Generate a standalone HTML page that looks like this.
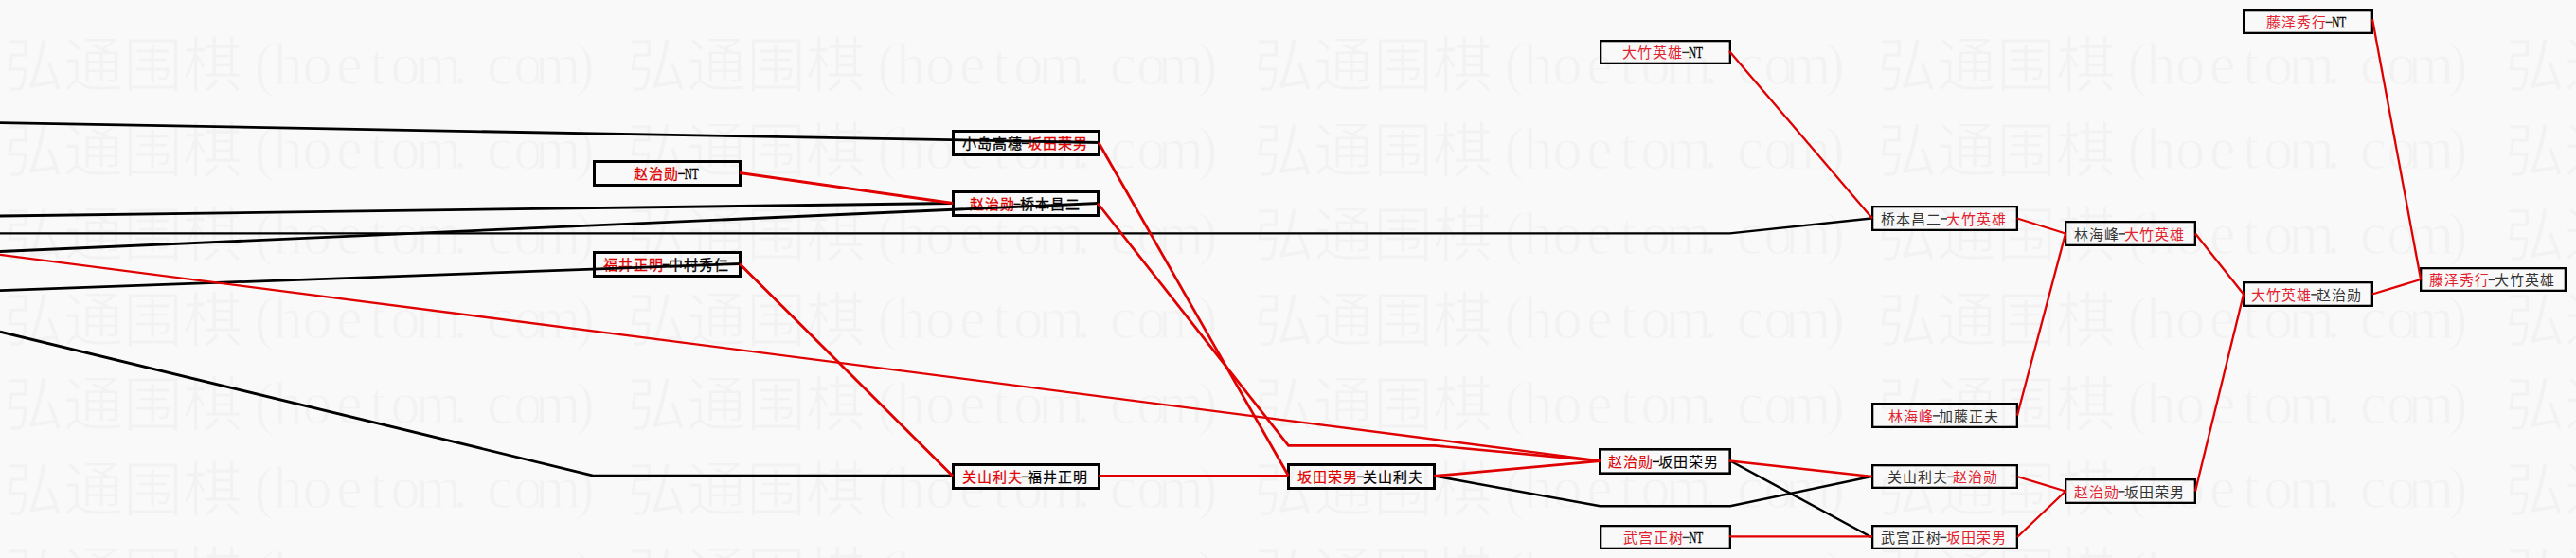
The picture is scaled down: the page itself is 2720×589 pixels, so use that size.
<!DOCTYPE html>
<html lang="zh-CN"><head><meta charset="utf-8"><title>bracket</title>
<style>
html,body{margin:0;padding:0;background:#f9f9f9;width:2720px;height:589px;overflow:hidden}
svg{display:block}
text{font-family:"Liberation Serif",serif}
</style></head><body>
<svg width="2720" height="589" viewBox="0 0 2720 589">
<rect x="0" y="0" width="2720" height="589" fill="#f9f9f9"/>

<g fill="#f2f2f2" stroke="#f9f9f9" stroke-width="1.2">
<text x="4.0" y="91.2" font-size="63">弘通围棋</text>
<text x="279.0 304.0 335.0 369.0 399.0 428.0 463.0 486.0 528.0 558.0 589.0 617.5" y="88.5" font-size="63" text-anchor="middle">(hoetom.com)</text>
<text x="661.8" y="91.2" font-size="63">弘通围棋</text>
<text x="936.8 961.8 992.8 1026.8 1056.8 1085.8 1120.8 1143.8 1185.8 1215.8 1246.8 1275.3" y="88.5" font-size="63" text-anchor="middle">(hoetom.com)</text>
<text x="1324.0" y="91.2" font-size="63">弘通围棋</text>
<text x="1599.0 1624.0 1655.0 1689.0 1719.0 1748.0 1783.0 1806.0 1848.0 1878.0 1909.0 1937.5" y="88.5" font-size="63" text-anchor="middle">(hoetom.com)</text>
<text x="1981.8" y="91.2" font-size="63">弘通围棋</text>
<text x="2256.8 2281.8 2312.8 2346.8 2376.8 2405.8 2440.8 2463.8 2505.8 2535.8 2566.8 2595.3" y="88.5" font-size="63" text-anchor="middle">(hoetom.com)</text>
<text x="2645.0" y="91.2" font-size="63">弘通围棋</text>
<text x="2920.0 2945.0 2976.0 3010.0 3040.0 3069.0 3104.0 3127.0 3169.0 3199.0 3230.0 3258.5" y="88.5" font-size="63" text-anchor="middle">(hoetom.com)</text>
<text x="4.0" y="180.75" font-size="63">弘通围棋</text>
<text x="279.0 304.0 335.0 369.0 399.0 428.0 463.0 486.0 528.0 558.0 589.0 617.5" y="178.05" font-size="63" text-anchor="middle">(hoetom.com)</text>
<text x="661.8" y="180.75" font-size="63">弘通围棋</text>
<text x="936.8 961.8 992.8 1026.8 1056.8 1085.8 1120.8 1143.8 1185.8 1215.8 1246.8 1275.3" y="178.05" font-size="63" text-anchor="middle">(hoetom.com)</text>
<text x="1324.0" y="180.75" font-size="63">弘通围棋</text>
<text x="1599.0 1624.0 1655.0 1689.0 1719.0 1748.0 1783.0 1806.0 1848.0 1878.0 1909.0 1937.5" y="178.05" font-size="63" text-anchor="middle">(hoetom.com)</text>
<text x="1981.8" y="180.75" font-size="63">弘通围棋</text>
<text x="2256.8 2281.8 2312.8 2346.8 2376.8 2405.8 2440.8 2463.8 2505.8 2535.8 2566.8 2595.3" y="178.05" font-size="63" text-anchor="middle">(hoetom.com)</text>
<text x="2645.0" y="180.75" font-size="63">弘通围棋</text>
<text x="2920.0 2945.0 2976.0 3010.0 3040.0 3069.0 3104.0 3127.0 3169.0 3199.0 3230.0 3258.5" y="178.05" font-size="63" text-anchor="middle">(hoetom.com)</text>
<text x="4.0" y="270.3" font-size="63">弘通围棋</text>
<text x="279.0 304.0 335.0 369.0 399.0 428.0 463.0 486.0 528.0 558.0 589.0 617.5" y="267.6" font-size="63" text-anchor="middle">(hoetom.com)</text>
<text x="661.8" y="270.3" font-size="63">弘通围棋</text>
<text x="936.8 961.8 992.8 1026.8 1056.8 1085.8 1120.8 1143.8 1185.8 1215.8 1246.8 1275.3" y="267.6" font-size="63" text-anchor="middle">(hoetom.com)</text>
<text x="1324.0" y="270.3" font-size="63">弘通围棋</text>
<text x="1599.0 1624.0 1655.0 1689.0 1719.0 1748.0 1783.0 1806.0 1848.0 1878.0 1909.0 1937.5" y="267.6" font-size="63" text-anchor="middle">(hoetom.com)</text>
<text x="1981.8" y="270.3" font-size="63">弘通围棋</text>
<text x="2256.8 2281.8 2312.8 2346.8 2376.8 2405.8 2440.8 2463.8 2505.8 2535.8 2566.8 2595.3" y="267.6" font-size="63" text-anchor="middle">(hoetom.com)</text>
<text x="2645.0" y="270.3" font-size="63">弘通围棋</text>
<text x="2920.0 2945.0 2976.0 3010.0 3040.0 3069.0 3104.0 3127.0 3169.0 3199.0 3230.0 3258.5" y="267.6" font-size="63" text-anchor="middle">(hoetom.com)</text>
<text x="4.0" y="359.85" font-size="63">弘通围棋</text>
<text x="279.0 304.0 335.0 369.0 399.0 428.0 463.0 486.0 528.0 558.0 589.0 617.5" y="357.15" font-size="63" text-anchor="middle">(hoetom.com)</text>
<text x="661.8" y="359.85" font-size="63">弘通围棋</text>
<text x="936.8 961.8 992.8 1026.8 1056.8 1085.8 1120.8 1143.8 1185.8 1215.8 1246.8 1275.3" y="357.15" font-size="63" text-anchor="middle">(hoetom.com)</text>
<text x="1324.0" y="359.85" font-size="63">弘通围棋</text>
<text x="1599.0 1624.0 1655.0 1689.0 1719.0 1748.0 1783.0 1806.0 1848.0 1878.0 1909.0 1937.5" y="357.15" font-size="63" text-anchor="middle">(hoetom.com)</text>
<text x="1981.8" y="359.85" font-size="63">弘通围棋</text>
<text x="2256.8 2281.8 2312.8 2346.8 2376.8 2405.8 2440.8 2463.8 2505.8 2535.8 2566.8 2595.3" y="357.15" font-size="63" text-anchor="middle">(hoetom.com)</text>
<text x="2645.0" y="359.85" font-size="63">弘通围棋</text>
<text x="2920.0 2945.0 2976.0 3010.0 3040.0 3069.0 3104.0 3127.0 3169.0 3199.0 3230.0 3258.5" y="357.15" font-size="63" text-anchor="middle">(hoetom.com)</text>
<text x="4.0" y="449.4" font-size="63">弘通围棋</text>
<text x="279.0 304.0 335.0 369.0 399.0 428.0 463.0 486.0 528.0 558.0 589.0 617.5" y="446.7" font-size="63" text-anchor="middle">(hoetom.com)</text>
<text x="661.8" y="449.4" font-size="63">弘通围棋</text>
<text x="936.8 961.8 992.8 1026.8 1056.8 1085.8 1120.8 1143.8 1185.8 1215.8 1246.8 1275.3" y="446.7" font-size="63" text-anchor="middle">(hoetom.com)</text>
<text x="1324.0" y="449.4" font-size="63">弘通围棋</text>
<text x="1599.0 1624.0 1655.0 1689.0 1719.0 1748.0 1783.0 1806.0 1848.0 1878.0 1909.0 1937.5" y="446.7" font-size="63" text-anchor="middle">(hoetom.com)</text>
<text x="1981.8" y="449.4" font-size="63">弘通围棋</text>
<text x="2256.8 2281.8 2312.8 2346.8 2376.8 2405.8 2440.8 2463.8 2505.8 2535.8 2566.8 2595.3" y="446.7" font-size="63" text-anchor="middle">(hoetom.com)</text>
<text x="2645.0" y="449.4" font-size="63">弘通围棋</text>
<text x="2920.0 2945.0 2976.0 3010.0 3040.0 3069.0 3104.0 3127.0 3169.0 3199.0 3230.0 3258.5" y="446.7" font-size="63" text-anchor="middle">(hoetom.com)</text>
<text x="4.0" y="538.95" font-size="63">弘通围棋</text>
<text x="279.0 304.0 335.0 369.0 399.0 428.0 463.0 486.0 528.0 558.0 589.0 617.5" y="536.25" font-size="63" text-anchor="middle">(hoetom.com)</text>
<text x="661.8" y="538.95" font-size="63">弘通围棋</text>
<text x="936.8 961.8 992.8 1026.8 1056.8 1085.8 1120.8 1143.8 1185.8 1215.8 1246.8 1275.3" y="536.25" font-size="63" text-anchor="middle">(hoetom.com)</text>
<text x="1324.0" y="538.95" font-size="63">弘通围棋</text>
<text x="1599.0 1624.0 1655.0 1689.0 1719.0 1748.0 1783.0 1806.0 1848.0 1878.0 1909.0 1937.5" y="536.25" font-size="63" text-anchor="middle">(hoetom.com)</text>
<text x="1981.8" y="538.95" font-size="63">弘通围棋</text>
<text x="2256.8 2281.8 2312.8 2346.8 2376.8 2405.8 2440.8 2463.8 2505.8 2535.8 2566.8 2595.3" y="536.25" font-size="63" text-anchor="middle">(hoetom.com)</text>
<text x="2645.0" y="538.95" font-size="63">弘通围棋</text>
<text x="2920.0 2945.0 2976.0 3010.0 3040.0 3069.0 3104.0 3127.0 3169.0 3199.0 3230.0 3258.5" y="536.25" font-size="63" text-anchor="middle">(hoetom.com)</text>
<text x="4.0" y="628.5" font-size="63">弘通围棋</text>
<text x="279.0 304.0 335.0 369.0 399.0 428.0 463.0 486.0 528.0 558.0 589.0 617.5" y="625.8" font-size="63" text-anchor="middle">(hoetom.com)</text>
<text x="661.8" y="628.5" font-size="63">弘通围棋</text>
<text x="936.8 961.8 992.8 1026.8 1056.8 1085.8 1120.8 1143.8 1185.8 1215.8 1246.8 1275.3" y="625.8" font-size="63" text-anchor="middle">(hoetom.com)</text>
<text x="1324.0" y="628.5" font-size="63">弘通围棋</text>
<text x="1599.0 1624.0 1655.0 1689.0 1719.0 1748.0 1783.0 1806.0 1848.0 1878.0 1909.0 1937.5" y="625.8" font-size="63" text-anchor="middle">(hoetom.com)</text>
<text x="1981.8" y="628.5" font-size="63">弘通围棋</text>
<text x="2256.8 2281.8 2312.8 2346.8 2376.8 2405.8 2440.8 2463.8 2505.8 2535.8 2566.8 2595.3" y="625.8" font-size="63" text-anchor="middle">(hoetom.com)</text>
<text x="2645.0" y="628.5" font-size="63">弘通围棋</text>
<text x="2920.0 2945.0 2976.0 3010.0 3040.0 3069.0 3104.0 3127.0 3169.0 3199.0 3230.0 3258.5" y="625.8" font-size="63" text-anchor="middle">(hoetom.com)</text>
</g>
<rect x="627.5" y="170.5" width="154" height="25" fill="none" stroke="#000" stroke-width="3"/>
<text x="669.20 685.20 701.20" y="189.20" font-size="15" fill="#e00000" stroke="#e00000" stroke-width="0.3">赵治勋</text>
<rect x="716.10" y="182.65" width="7.1" height="1.45" fill="#000"/>
<text x="722.70" y="188.5" font-size="16" fill="#000" stroke="#000" stroke-width="0.35" textLength="15" lengthAdjust="spacingAndGlyphs">NT</text>
<rect x="627.5" y="266.5" width="154" height="25" fill="none" stroke="#000" stroke-width="3"/>
<text x="636.70 652.70 668.70 684.70" y="285.20" font-size="15" fill="#e00000" stroke="#e00000" stroke-width="0.3">福井正明</text>
<rect x="699.60" y="278.65" width="7.1" height="1.45" fill="#000"/>
<text x="705.70 721.70 737.70 753.70" y="285.20" font-size="15" fill="#000" stroke="#000" stroke-width="0.3">中村秀仁</text>
<rect x="1006.5" y="138.5" width="154" height="25" fill="none" stroke="#000" stroke-width="3"/>
<text x="1015.90 1031.90 1047.90 1063.90" y="157.20" font-size="15" fill="#000" stroke="#000" stroke-width="0.3">小岛高穗</text>
<rect x="1078.80" y="150.65" width="7.1" height="1.45" fill="#000"/>
<text x="1084.90 1100.90 1116.90 1132.90" y="157.20" font-size="15" fill="#e00000" stroke="#e00000" stroke-width="0.3">坂田荣男</text>
<rect x="1006.5" y="202.5" width="153" height="25" fill="none" stroke="#000" stroke-width="3"/>
<text x="1023.60 1039.60 1055.60" y="221.20" font-size="15" fill="#e00000" stroke="#e00000" stroke-width="0.3">赵治勋</text>
<rect x="1070.50" y="214.65" width="7.1" height="1.45" fill="#000"/>
<text x="1076.60 1092.60 1108.60 1124.60" y="221.20" font-size="15" fill="#000" stroke="#000" stroke-width="0.3">桥本昌二</text>
<rect x="1006.5" y="490.5" width="154" height="25" fill="none" stroke="#000" stroke-width="3"/>
<text x="1015.80 1031.80 1047.80 1063.80" y="509.20" font-size="15" fill="#e00000" stroke="#e00000" stroke-width="0.2">关山利夫</text>
<rect x="1078.70" y="502.65" width="7.1" height="1.45" fill="#000"/>
<text x="1084.80 1100.80 1116.80 1132.80" y="509.20" font-size="15" fill="#000" stroke="#000" stroke-width="0.2">福井正明</text>
<rect x="1360.5" y="490.5" width="154" height="25" fill="none" stroke="#000" stroke-width="3"/>
<text x="1370.00 1386.00 1402.00 1418.00" y="509.20" font-size="15" fill="#e00000" stroke="#e00000" stroke-width="0.2">坂田荣男</text>
<rect x="1432.90" y="502.65" width="7.1" height="1.45" fill="#000"/>
<text x="1439.00 1455.00 1471.00 1487.00" y="509.20" font-size="15" fill="#000" stroke="#000" stroke-width="0.2">关山利夫</text>
<rect x="1690.15" y="43.15" width="136.7" height="23.7" fill="none" stroke="#000" stroke-width="2.3"/>
<text x="1713.40 1729.40 1745.40 1761.40" y="61.20" font-size="15" fill="#e3222f">大竹英雄</text>
<rect x="1776.30" y="54.65" width="7.1" height="1.45" fill="#333"/>
<text x="1782.90" y="60.5" font-size="16" fill="#000" stroke="#000" stroke-width="0.35" textLength="15" lengthAdjust="spacingAndGlyphs">NT</text>
<rect x="1689.3" y="474.3" width="137.4" height="25.4" fill="none" stroke="#000" stroke-width="2.6"/>
<text x="1698.00 1714.00 1730.00" y="493.20" font-size="15" fill="#e00000" stroke="#e00000" stroke-width="0.1">赵治勋</text>
<rect x="1744.90" y="486.65" width="7.1" height="1.45" fill="#000"/>
<text x="1751.00 1767.00 1783.00 1799.00" y="493.20" font-size="15" fill="#000" stroke="#000" stroke-width="0.1">坂田荣男</text>
<rect x="1690.15" y="555.15" width="136.7" height="23.7" fill="none" stroke="#000" stroke-width="2.3"/>
<text x="1713.70 1729.70 1745.70 1761.70" y="573.20" font-size="15" fill="#e3222f">武宫正树</text>
<rect x="1776.60" y="566.65" width="7.1" height="1.45" fill="#333"/>
<text x="1783.20" y="572.5" font-size="16" fill="#000" stroke="#000" stroke-width="0.35" textLength="15" lengthAdjust="spacingAndGlyphs">NT</text>
<rect x="1977.15" y="218.15" width="152.7" height="24.7" fill="none" stroke="#000" stroke-width="2.3"/>
<text x="1986.00 2002.00 2018.00 2034.00" y="236.70" font-size="15" fill="#333">桥本昌二</text>
<rect x="2048.90" y="230.15" width="7.1" height="1.45" fill="#333"/>
<text x="2055.00 2071.00 2087.00 2103.00" y="236.70" font-size="15" fill="#e3222f">大竹英雄</text>
<rect x="1977.15" y="426.15" width="152.7" height="24.7" fill="none" stroke="#000" stroke-width="2.3"/>
<text x="1994.20 2010.20 2026.20" y="444.70" font-size="15" fill="#e3222f">林海峰</text>
<rect x="2041.10" y="438.15" width="7.1" height="1.45" fill="#333"/>
<text x="2047.20 2063.20 2079.20 2095.20" y="444.70" font-size="15" fill="#333">加藤正夫</text>
<rect x="1977.15" y="491.15" width="152.7" height="23.7" fill="none" stroke="#000" stroke-width="2.3"/>
<text x="1993.30 2009.30 2025.30 2041.30" y="509.20" font-size="15" fill="#333">关山利夫</text>
<rect x="2056.20" y="502.65" width="7.1" height="1.45" fill="#333"/>
<text x="2062.30 2078.30 2094.30" y="509.20" font-size="15" fill="#e3222f">赵治勋</text>
<rect x="1977.15" y="555.15" width="152.7" height="23.7" fill="none" stroke="#000" stroke-width="2.3"/>
<text x="1985.50 2001.50 2017.50 2033.50" y="573.20" font-size="15" fill="#333">武宫正树</text>
<rect x="2048.40" y="566.65" width="7.1" height="1.45" fill="#333"/>
<text x="2054.50 2070.50 2086.50 2102.50" y="573.20" font-size="15" fill="#e3222f">坂田荣男</text>
<rect x="2181.15" y="234.15" width="136.7" height="24.7" fill="none" stroke="#000" stroke-width="2.3"/>
<text x="2190.00 2206.00 2222.00" y="252.70" font-size="15" fill="#333">林海峰</text>
<rect x="2236.90" y="246.15" width="7.1" height="1.45" fill="#333"/>
<text x="2243.00 2259.00 2275.00 2291.00" y="252.70" font-size="15" fill="#e3222f">大竹英雄</text>
<rect x="2181.15" y="506.15" width="136.7" height="24.7" fill="none" stroke="#000" stroke-width="2.3"/>
<text x="2189.60 2205.60 2221.60" y="524.70" font-size="15" fill="#e3222f">赵治勋</text>
<rect x="2236.50" y="518.15" width="7.1" height="1.45" fill="#333"/>
<text x="2242.60 2258.60 2274.60 2290.60" y="524.70" font-size="15" fill="#333">坂田荣男</text>
<rect x="2369.15" y="11.15" width="135.7" height="23.7" fill="none" stroke="#000" stroke-width="2.3"/>
<text x="2392.70 2408.70 2424.70 2440.70" y="29.20" font-size="15" fill="#e3222f">藤泽秀行</text>
<rect x="2455.60" y="22.65" width="7.1" height="1.45" fill="#333"/>
<text x="2462.20" y="28.5" font-size="16" fill="#000" stroke="#000" stroke-width="0.35" textLength="15" lengthAdjust="spacingAndGlyphs">NT</text>
<rect x="2369.15" y="298.15" width="135.7" height="24.7" fill="none" stroke="#000" stroke-width="2.3"/>
<text x="2377.40 2393.40 2409.40 2425.40" y="316.70" font-size="15" fill="#e3222f">大竹英雄</text>
<rect x="2440.30" y="310.15" width="7.1" height="1.45" fill="#333"/>
<text x="2446.40 2462.40 2478.40" y="316.70" font-size="15" fill="#333">赵治勋</text>
<rect x="2556.15" y="283.15" width="152.7" height="23.7" fill="none" stroke="#000" stroke-width="2.3"/>
<text x="2564.80 2580.80 2596.80 2612.80" y="301.20" font-size="15" fill="#e3222f">藤泽秀行</text>
<rect x="2627.70" y="294.65" width="7.1" height="1.45" fill="#333"/>
<text x="2633.80 2649.80 2665.80 2681.80" y="301.20" font-size="15" fill="#333">大竹英雄</text>
<polyline points="0,129.6 1161,150.5" fill="none" stroke="#000" stroke-width="2.8" stroke-linejoin="miter"/>
<polyline points="0,228 1005,214.5" fill="none" stroke="#000" stroke-width="2.8" stroke-linejoin="miter"/>
<polyline points="0,246.4 1826.5,246.4 1976,230.5" fill="none" stroke="#000" stroke-width="2.3" stroke-linejoin="miter"/>
<polyline points="0,265.5 1160,214.5" fill="none" stroke="#000" stroke-width="2.8" stroke-linejoin="miter"/>
<polyline points="0,306.7 782,278.5" fill="none" stroke="#000" stroke-width="2.8" stroke-linejoin="miter"/>
<polyline points="0,350.2 627.3,502.3 1005,502.3" fill="none" stroke="#000" stroke-width="2.9" stroke-linejoin="miter"/>
<polyline points="1515,502.5 1689.5,534.3 1827,534.3 1976,503" fill="none" stroke="#000" stroke-width="2.5" stroke-linejoin="miter"/>
<polyline points="1827,486.5 1976,567" fill="none" stroke="#000" stroke-width="2.5" stroke-linejoin="miter"/>
<polyline points="0,268.9 1689.5,486.3" fill="none" stroke="#e00000" stroke-width="2.3" stroke-linejoin="miter"/>
<polyline points="781.0,182.5 1006.0,214.5" fill="none" stroke="#e00000" stroke-width="2.8" stroke-linejoin="miter"/>
<polyline points="781.0,278.5 1006.0,502.5" fill="none" stroke="#e00000" stroke-width="2.9" stroke-linejoin="miter"/>
<polyline points="1160.0,150.5 1360.5,502.2" fill="none" stroke="#e00000" stroke-width="2.8" stroke-linejoin="miter"/>
<polyline points="1159.0,214.5 1360.5,470.4 1515,470.4 1689.5,486.6" fill="none" stroke="#e00000" stroke-width="2.7" stroke-linejoin="miter"/>
<polyline points="1160.0,502.4 1360.0,502.4" fill="none" stroke="#e00000" stroke-width="3.0" stroke-linejoin="miter"/>
<polyline points="1514.0,502.5 1689.5,486.6" fill="none" stroke="#e00000" stroke-width="2.8" stroke-linejoin="miter"/>
<polyline points="1826.0,54 1977.0,230.5" fill="none" stroke="#e00000" stroke-width="2.3" stroke-linejoin="miter"/>
<polyline points="1826.0,486.5 1977.0,503" fill="none" stroke="#e00000" stroke-width="2.5" stroke-linejoin="miter"/>
<polyline points="1826.0,566.4 1977.0,566.4" fill="none" stroke="#e00000" stroke-width="2.3" stroke-linejoin="miter"/>
<polyline points="2130.0,230.5 2181.0,246.5" fill="none" stroke="#e00000" stroke-width="2.3" stroke-linejoin="miter"/>
<polyline points="2130.0,438.5 2181.0,246.5" fill="none" stroke="#e00000" stroke-width="2.3" stroke-linejoin="miter"/>
<polyline points="2130.0,503 2181.0,518.5" fill="none" stroke="#e00000" stroke-width="2.3" stroke-linejoin="miter"/>
<polyline points="2130.0,567 2181.0,518.5" fill="none" stroke="#e00000" stroke-width="2.3" stroke-linejoin="miter"/>
<polyline points="2318.0,246.5 2369.0,310.5" fill="none" stroke="#e00000" stroke-width="2.3" stroke-linejoin="miter"/>
<polyline points="2318.0,518.5 2369.0,310.5" fill="none" stroke="#e00000" stroke-width="2.3" stroke-linejoin="miter"/>
<polyline points="2505.0,20.3 2556.0,294.5" fill="none" stroke="#e00000" stroke-width="2.3" stroke-linejoin="miter"/>
<polyline points="2505.0,310.5 2556.0,295" fill="none" stroke="#e00000" stroke-width="2.3" stroke-linejoin="miter"/>
</svg></body></html>
